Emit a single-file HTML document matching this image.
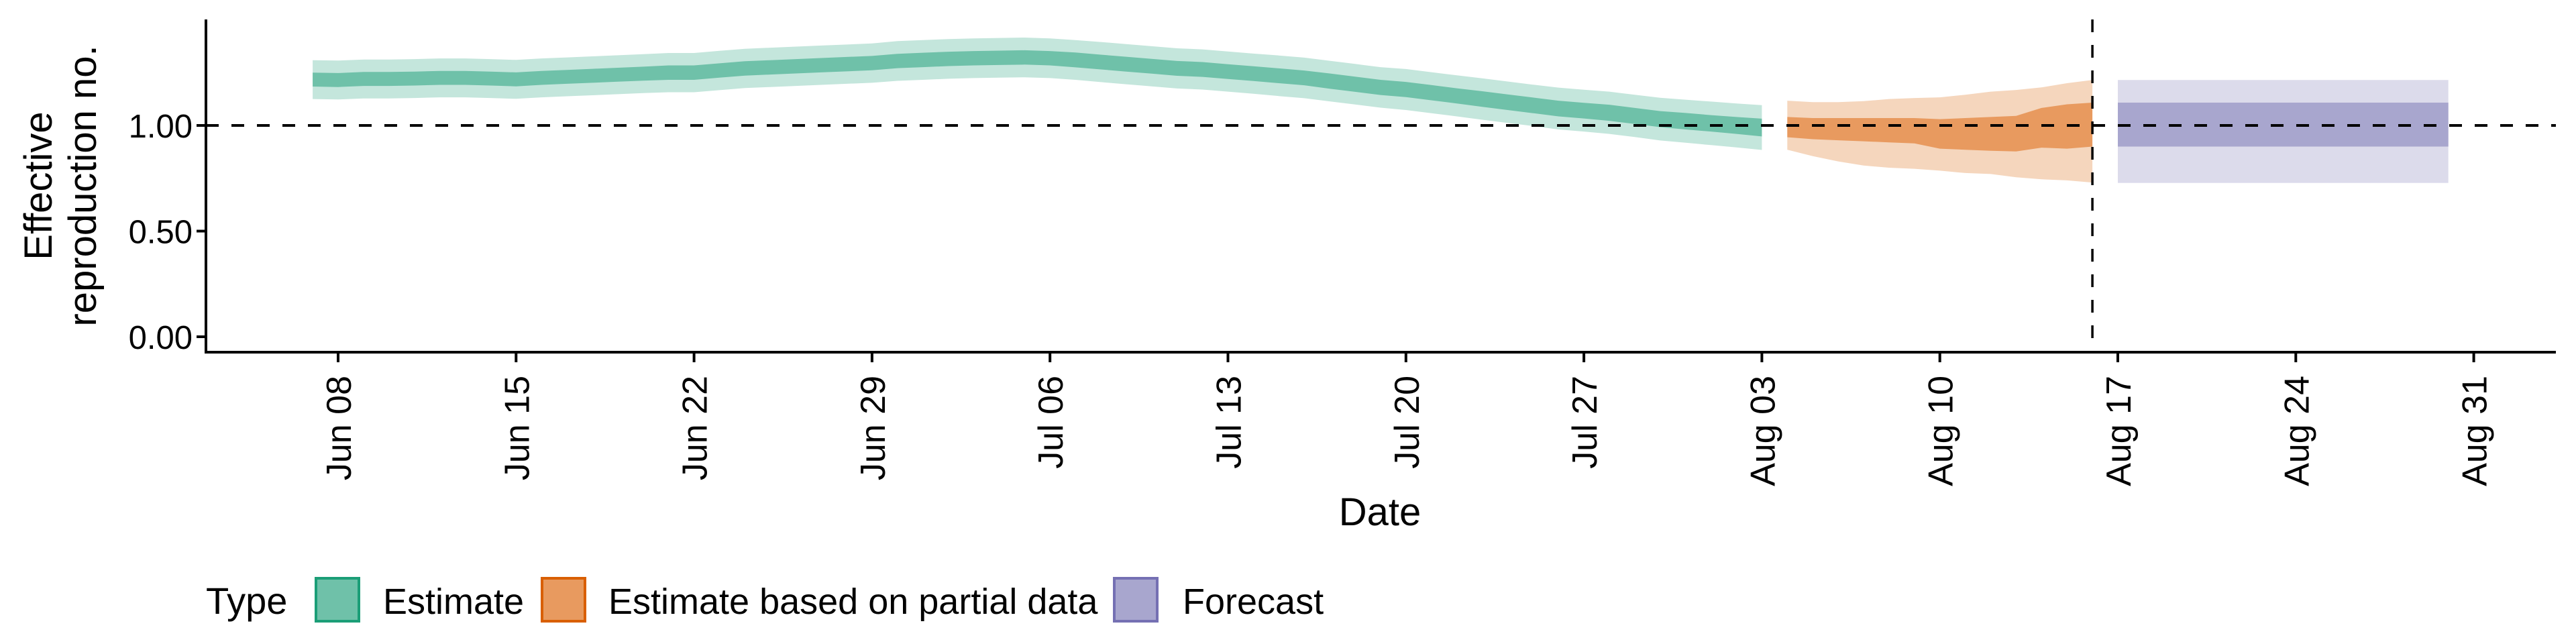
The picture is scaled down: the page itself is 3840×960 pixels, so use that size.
<!DOCTYPE html>
<html><head><meta charset="utf-8"><style>
html,body{margin:0;padding:0;background:#fff;}
svg{display:block;font-family:"Liberation Sans",Arial,sans-serif;}
</style></head><body>
<svg id="chart" width="3840" height="960" viewBox="0 0 3840 960" xmlns="http://www.w3.org/2000/svg">
<g id="ribbons"></g>
<g id="axes"></g>
<text transform="translate(77,277) rotate(-90)" text-anchor="middle" font-size="58"><tspan x="0" dy="0">Effective</tspan><tspan x="0" dy="66">reproduction no.</tspan></text>
<text x="2057" y="783" text-anchor="middle" font-size="58">Date</text>
<g>
<text x="307" y="915" font-size="56">Type</text>
<rect x="471" y="862" width="64" height="64" fill="#6fc1a9" stroke="#1b9e77" stroke-width="4"/>
<text x="571" y="915" font-size="54">Estimate</text>
<rect x="808" y="862" width="64" height="64" fill="#e89a5f" stroke="#d95f02" stroke-width="4"/>
<text x="907" y="915" font-size="54">Estimate based on partial data</text>
<rect x="1661" y="862" width="64" height="64" fill="#a8a6ce" stroke="#7570b3" stroke-width="4"/>
<text x="1763" y="915" font-size="54">Forecast</text>
</g>
</svg>
<script>
// Day index: 0 = Jun 08
const xTickLabels = ["Jun 08","Jun 15","Jun 22","Jun 29","Jul 06","Jul 13","Jul 20","Jul 27","Aug 03","Aug 10","Aug 17","Aug 24","Aug 31"];
const xTickDays = [0,7,14,21,28,35,42,49,56,63,70,77,84];
const yTicks = [0, 0.5, 1.0];
const yTickLabels = ["0.00","0.50","1.00"];
const estStartDay = -1;
const estMedian = [1.217,1.215,1.22,1.22,1.222,1.225,1.225,1.222,1.218,1.225,1.23,1.235,1.24,1.245,1.25,1.25,1.26,1.27,1.275,1.28,1.285,1.29,1.295,1.305,1.31,1.315,1.318,1.32,1.322,1.318,1.31,1.30,1.29,1.28,1.27,1.265,1.255,1.245,1.235,1.225,1.21,1.195,1.18,1.17,1.155,1.14,1.125,1.11,1.095,1.08,1.07,1.06,1.045,1.03,1.02,1.01,1.0,0.99];
const estInnerHalf = [0.033,0.033,0.033,0.033,0.033,0.033,0.033,0.033,0.033,0.033,0.033,0.033,0.033,0.033,0.034,0.034,0.034,0.034,0.034,0.034,0.034,0.034,0.034,0.034,0.034,0.034,0.034,0.034,0.034,0.034,0.035,0.035,0.035,0.035,0.035,0.035,0.035,0.035,0.035,0.035,0.036,0.036,0.036,0.036,0.036,0.036,0.037,0.037,0.037,0.037,0.037,0.038,0.038,0.038,0.039,0.039,0.04,0.042];
const estOuterHalf = [0.092,0.092,0.092,0.092,0.092,0.092,0.092,0.092,0.092,0.092,0.092,0.092,0.092,0.092,0.093,0.093,0.093,0.093,0.093,0.093,0.093,0.093,0.093,0.094,0.094,0.094,0.094,0.094,0.094,0.094,0.094,0.095,0.095,0.095,0.095,0.095,0.095,0.095,0.096,0.096,0.096,0.096,0.096,0.097,0.097,0.097,0.098,0.098,0.098,0.099,0.099,0.1,0.1,0.101,0.102,0.103,0.104,0.106];
const partStartDay = 57;
const partLo50 = [0.944,0.935,0.93,0.925,0.92,0.915,0.89,0.885,0.88,0.877,0.895,0.89,0.90];
const partHi50 = [1.04,1.035,1.035,1.035,1.035,1.035,1.03,1.035,1.04,1.045,1.083,1.10,1.108];
const partLo90 = [0.885,0.855,0.83,0.81,0.80,0.795,0.786,0.775,0.77,0.755,0.745,0.74,0.73];
const partHi90 = [1.117,1.11,1.11,1.115,1.125,1.13,1.133,1.145,1.16,1.168,1.18,1.20,1.215];
const fcStartDay = 70;
const fcEndDay = 83;
const fcLo50 = 0.90, fcHi50 = 1.108, fcLo90 = 0.728, fcHi90 = 1.215;
const refR = 1.0;
const forecastDay = 69;

const NS = "http://www.w3.org/2000/svg";
const X0 = 504, PXD = 37.9, Y0 = 502, PXU = 315;
const xs = d => X0 + PXD * d;
const ys = v => Y0 - PXU * v;
const PL = 307, PR = 3810, PT = 29, PB = 525;

function mk(tag, attrs, parent) {
  const e = document.createElementNS(NS, tag);
  for (const k in attrs) e.setAttribute(k, attrs[k]);
  parent.appendChild(e);
  return e;
}
function band(start, lo, hi, fill, parent, name) {
  let pts = [];
  for (let i = 0; i < hi.length; i++) pts.push(xs(start + i).toFixed(1) + "," + ys(hi[i]).toFixed(1));
  for (let i = lo.length - 1; i >= 0; i--) pts.push(xs(start + i).toFixed(1) + "," + ys(lo[i]).toFixed(1));
  const p = mk("polygon", {points: pts.join(" "), fill: fill}, parent);
  
  
}
function rectBand(d0, d1, lo, hi, fill, parent, name) {
  const p = mk("rect", {x: xs(d0), y: ys(hi), width: xs(d1) - xs(d0), height: ys(lo) - ys(hi), fill: fill}, parent);
  
  
}
const rib = document.getElementById("ribbons");
const eLo90 = estMedian.map((m, i) => m - estOuterHalf[i]);
const eHi90 = estMedian.map((m, i) => m + estOuterHalf[i]);
const eLo50 = estMedian.map((m, i) => m - estInnerHalf[i]);
const eHi50 = estMedian.map((m, i) => m + estInnerHalf[i]);
band(estStartDay, eLo90, eHi90, "#c4e6dc", rib, "estimate-band-90");
band(estStartDay, eLo50, eHi50, "#6fc1a9", rib, "estimate-band-50");
band(partStartDay, partLo90, partHi90, "#f5d6bd", rib, "partial-band-90");
band(partStartDay, partLo50, partHi50, "#e89a5f", rib, "partial-band-50");
rectBand(fcStartDay, fcEndDay, fcLo90, fcHi90, "#dcdbeb", rib, "forecast-band-90");
rectBand(fcStartDay, fcEndDay, fcLo50, fcHi50, "#a8a6ce", rib, "forecast-band-50");

const ax = document.getElementById("axes");
const vl = mk("line", {x1: xs(forecastDay), x2: xs(forecastDay), y1: PT, y2: PB, stroke: "#000", "stroke-width": 3.5, "stroke-dasharray": "19 19"}, ax);


const hl = mk("line", {x1: PL, x2: PR, y1: ys(refR), y2: ys(refR), stroke: "#000", "stroke-width": 4, "stroke-dasharray": "19 19"}, ax);


const yAxis = mk("line", {x1: PL, x2: PL, y1: PT, y2: PB + 2, stroke: "#000", "stroke-width": 4}, ax);


const xAxis = mk("line", {x1: PL - 2, x2: PR, y1: PB, y2: PB, stroke: "#000", "stroke-width": 4}, ax);


yTicks.forEach((v, i) => {
  const t = mk("line", {x1: PL - 14, x2: PL, y1: ys(v), y2: ys(v), stroke: "#000", "stroke-width": 4}, ax);
  
  
  const l = mk("text", {x: PL - 20, y: ys(v) + 18, "text-anchor": "end", "font-size": 49}, ax);
  l.textContent = yTickLabels[i];
  
  
});
xTickDays.forEach((d, i) => {
  const t = mk("line", {x1: xs(d), x2: xs(d), y1: PB, y2: PB + 15, stroke: "#000", "stroke-width": 4}, ax);
  
  
  const l = mk("text", {transform: "translate(" + (xs(d) + 19) + "," + (PB + 35) + ") rotate(-90)", "text-anchor": "end", "font-size": 52}, ax);
  l.textContent = xTickLabels[i];
  
  
});
</script>
</body></html>
